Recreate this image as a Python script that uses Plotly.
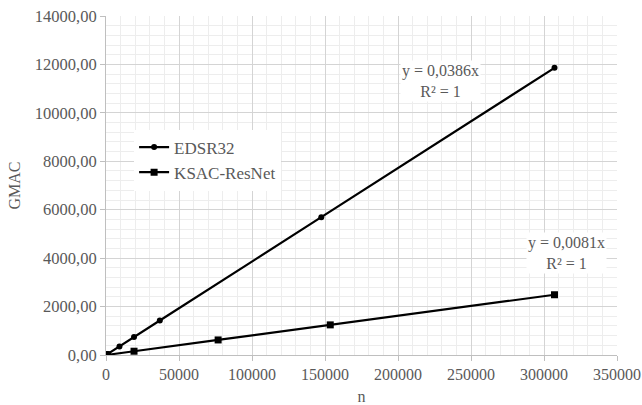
import plotly.graph_objects as go

edsr_n = [0, 1024, 9216, 19200, 36864, 147456, 307200]
edsr_gmac = [0, 40, 356, 741, 1423, 5692, 11858]
ksac_n = [0, 1024, 19200, 76800, 153600, 307200]
ksac_gmac = [0, 8, 156, 622, 1244, 2488]

FONT = "Liberation Serif, Times New Roman, serif"
GRAY = "#595959"

fig = go.Figure()
fig.add_trace(go.Scatter(x=edsr_n, y=edsr_gmac, name="EDSR32", mode="lines+markers",
                         line=dict(color="black", width=2.2),
                         marker=dict(symbol="circle", size=6, color="black")))
fig.add_trace(go.Scatter(x=ksac_n, y=ksac_gmac, name="KSAC-ResNet", mode="lines+markers",
                         line=dict(color="black", width=2.2),
                         marker=dict(symbol="square", size=7, color="black")))

fig.update_layout(
    width=642, height=405,
    margin=dict(l=106, r=25, t=16, b=50),
    paper_bgcolor="white", plot_bgcolor="white",
    separators=", ",
    font=dict(family=FONT, color=GRAY, size=16),
    showlegend=True,
    legend=dict(x=0.055, y=0.665, xanchor="left", yanchor="top", bgcolor="white",
                font=dict(family=FONT, size=17, color=GRAY), tracegroupgap=4,
                itemwidth=30),
    xaxis=dict(range=[0, 350000], dtick=50000, tickformat="d", automargin=False,
               showgrid=True, gridcolor="#d4d4d4", gridwidth=1,
               minor=dict(dtick=10000, showgrid=True, gridcolor="#ededed", ticks=""),
               showline=True, linecolor="#bfbfbf", ticks="outside", ticklen=5,
               tickcolor="#bfbfbf", zeroline=False,
               title=dict(text="n", font=dict(family=FONT, size=16, color=GRAY), standoff=10),
               tickfont=dict(family=FONT, size=16, color=GRAY)),
    yaxis=dict(range=[0, 14000], dtick=2000, tickformat=".2f", automargin=False,
               showgrid=True, gridcolor="#d4d4d4", gridwidth=1,
               minor=dict(dtick=400, showgrid=True, gridcolor="#ededed", ticks=""),
               showline=True, linecolor="#bfbfbf", ticks="outside", ticklen=5,
               tickcolor="#bfbfbf", zeroline=False,
               title=dict(text="GMAC", font=dict(family=FONT, size=16, color=GRAY), standoff=10),
               tickfont=dict(family=FONT, size=16.5, color=GRAY)),
)

fig.add_annotation(x=228800, y=11330, xref="x", yref="y", text="y = 0,0386x<br>R² = 1",
                   showarrow=False, bgcolor="white", align="center",
                   font=dict(family=FONT, size=16, color=GRAY))
fig.add_annotation(x=315700, y=4230, xref="x", yref="y", text="y = 0,0081x<br>R² = 1",
                   showarrow=False, bgcolor="white", align="center",
                   font=dict(family=FONT, size=16, color=GRAY))

fig.write_html("out.html", config={"displayModeBar": False},
               post_script="document.body.style.margin='0';")
